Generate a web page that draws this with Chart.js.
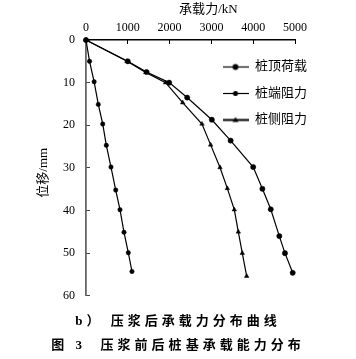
<!DOCTYPE html>
<html><head><meta charset="utf-8">
<script src="https://cdn.jsdelivr.net/npm/chart.js@4"></script>
<style>html,body{margin:0;padding:0;background:#fff;}#wrap{width:356px;height:359px;position:relative;}</style>
</head><body><div id="wrap"><canvas id="c"></canvas></div>
<script>
// ---- data ----
const seriesNames = ['桩顶荷载', '桩端阻力', '桩侧阻力'];
// 桩顶荷载 (pile-top load)
const topLoadKN = [0, 1000, 1450, 1990, 2420, 3010, 3460, 4000, 4220, 4420, 4625, 4760, 4945];
const topLoadMM = [0, 5, 7.5, 10, 13.5, 18.7, 23.6, 29.8, 34.9, 39.7, 46, 50, 54.6];
// 桩端阻力 (tip resistance)
const tipKN = [0, 85, 195, 294, 400, 486, 598, 711, 813, 909, 1012, 1100];
const tipMM = [0, 5, 9.8, 15.1, 19.7, 24.7, 29.8, 35.2, 39.8, 45.1, 49.9, 54.3];
// 桩侧阻力 (side resistance)
const sideKN = [0, 980, 1430, 1905, 2313, 2775, 2982, 3206, 3381, 3548, 3644, 3739, 3844];
const sideMM = [0, 5, 7.6, 10, 14.7, 19.7, 24.6, 29.9, 34.8, 39.8, 45, 50, 55.4];
const xTicks = [0, 1000, 2000, 3000, 4000, 5000];
const yTicks = [0, 10, 20, 30, 40, 50, 60];
const xTitle = '承载力/kN';
const yTitle = '位移/mm';
const subCaption = 'b） 压浆后承载力分布曲线';
const figCaption = '图 3  压浆前后桩基承载能力分布';

const SERIF = "'Liberation Serif', 'Noto Sans CJK SC', serif";
const CJK = "'Liberation Serif', 'Noto Sans CJK SC', sans-serif";
Chart.defaults.font.family = SERIF;
Chart.defaults.color = '#000';

const styles = [
  {point: 'circle', radius: 2.6, lw: 1.2, legendLw: 1.2},
  {point: 'circle', radius: 2.2, lw: 1.2, legendLw: 1.2},
  {point: 'triangle', radius: 2.6, lw: 1.2, legendLw: 2}
];

function toPts(xs, ys) { return xs.map((x, i) => ({x: x, y: ys[i]})); }

function legendIcon(st) {
  const cv = document.createElement('canvas');
  cv.width = 26; cv.height = 9;
  const c = cv.getContext('2d');
  c.strokeStyle = '#000'; c.fillStyle = '#000';
  c.lineWidth = st.legendLw;
  c.beginPath(); c.moveTo(0, 4.5); c.lineTo(26, 4.5); c.stroke();
  c.beginPath();
  if (st.point === 'triangle') {
    c.moveTo(13, 1.5); c.lineTo(16, 6.5); c.lineTo(10, 6.5); c.closePath();
  } else {
    c.arc(13, 4.5, st.radius + 0.3, 0, Math.PI * 2);
  }
  c.fill();
  return cv;
}
const icons = styles.map(legendIcon);

const seriesData = [toPts(topLoadKN, topLoadMM), toPts(tipKN, tipMM), toPts(sideKN, sideMM)];

const datasets = seriesNames.map((name, i) => ({
  label: name,
  data: seriesData[i],
  showLine: true,
  borderColor: '#000',
  backgroundColor: '#000',
  borderWidth: styles[i].lw,
  pointStyle: styles[i].point,
  pointRadius: styles[i].radius,
  pointBackgroundColor: '#000',
  pointBorderColor: '#000',
  pointBorderWidth: 0.5,
  tension: 0,
  clip: false
}));

const layoutTweaks = {
  id: 'layoutTweaks',
  afterLayout(chart) {
    const lg = chart.legend;
    const ca = chart.chartArea;
    if (lg) {
      lg.left = ca.right - 86; lg.top = ca.top + 7;
      lg.width = 150; lg.height = 200;
      lg.right = lg.left + lg.width; lg.bottom = lg.top + lg.height;
    }
    chart.boxes.forEach(b => {
      if (b.options && typeof b.options.text === 'string' && b.options.position === 'bottom' && !b._spaced) {
        const orig = b.draw;
        b.draw = function () {
          const ctx = this.ctx;
          const prev = ctx.letterSpacing;
          ctx.letterSpacing = '4px';
          orig.apply(this, arguments);
          ctx.letterSpacing = prev || '0px';
        };
        b._spaced = true;
      }
    });
  }
};

new Chart(document.getElementById('c'), {
  type: 'scatter',
  data: {datasets: datasets},
  plugins: [layoutTweaks],
  options: {
    responsive: true,
    maintainAspectRatio: false,
    animation: false,
    layout: {padding: 0},
    scales: {
      x: {
        type: 'linear', position: 'top', min: 0, max: 5000,
        afterFit: s => { s.height = 40; s.paddingRight = 61; },
        afterBuildTicks: s => { s.ticks = xTicks.map(v => ({value: v})); },
        ticks: {font: {size: 12}, color: '#000', padding: 9, maxRotation: 0, callback: v => String(v)},
        grid: {drawOnChartArea: false, drawTicks: true, tickLength: -4, color: '#000', lineWidth: 1},
        border: {display: true, color: '#000', width: 1.5},
        title: {display: true, text: '           ' + xTitle, font: {size: 13, family: CJK}, color: '#000', padding: {top: 2, bottom: 0}}
      },
      y: {
        type: 'linear', position: 'left', reverse: true, min: 0, max: 60,
        afterFit: s => { s.width = 86; },
        afterBuildTicks: s => { s.ticks = yTicks.map(v => ({value: v})); },
        ticks: {font: {size: 12}, color: '#000', padding: 15, callback: v => String(v)},
        grid: {drawOnChartArea: false, drawTicks: true, tickLength: -4, color: '#444', lineWidth: 1},
        border: {display: true, color: '#666', width: 1.8},
        title: {display: true, text: yTitle + '   ', font: {size: 13, family: CJK}, color: '#000', padding: {top: 36, bottom: 0}}
      }
    },
    plugins: {
      legend: {
        display: true,
        position: 'chartArea',
        fullSize: false,
        align: 'start',
        labels: {
          usePointStyle: true,
          pointStyleWidth: 26,
          boxHeight: 12,
          padding: 13.5,
          color: '#000',
          font: {size: 13, family: CJK},
          generateLabels(chart) {
            const items = Chart.defaults.plugins.legend.labels.generateLabels(chart);
            items.forEach((it, i) => { it.pointStyle = icons[i]; it.rotation = 0; });
            return items;
          }
        }
      },
      tooltip: {enabled: false},
      subtitle: {
        display: true, position: 'bottom', text: subCaption, color: '#000',
        font: {size: 13, family: CJK, weight: 'bold'},
        padding: {top: 18, bottom: 4}
      },
      title: {
        display: true, position: 'bottom', text: figCaption, color: '#000',
        font: {size: 13, family: CJK, weight: 'bold'},
        padding: {top: 4, bottom: 6}
      }
    }
  }
});
</script>
</body></html>
